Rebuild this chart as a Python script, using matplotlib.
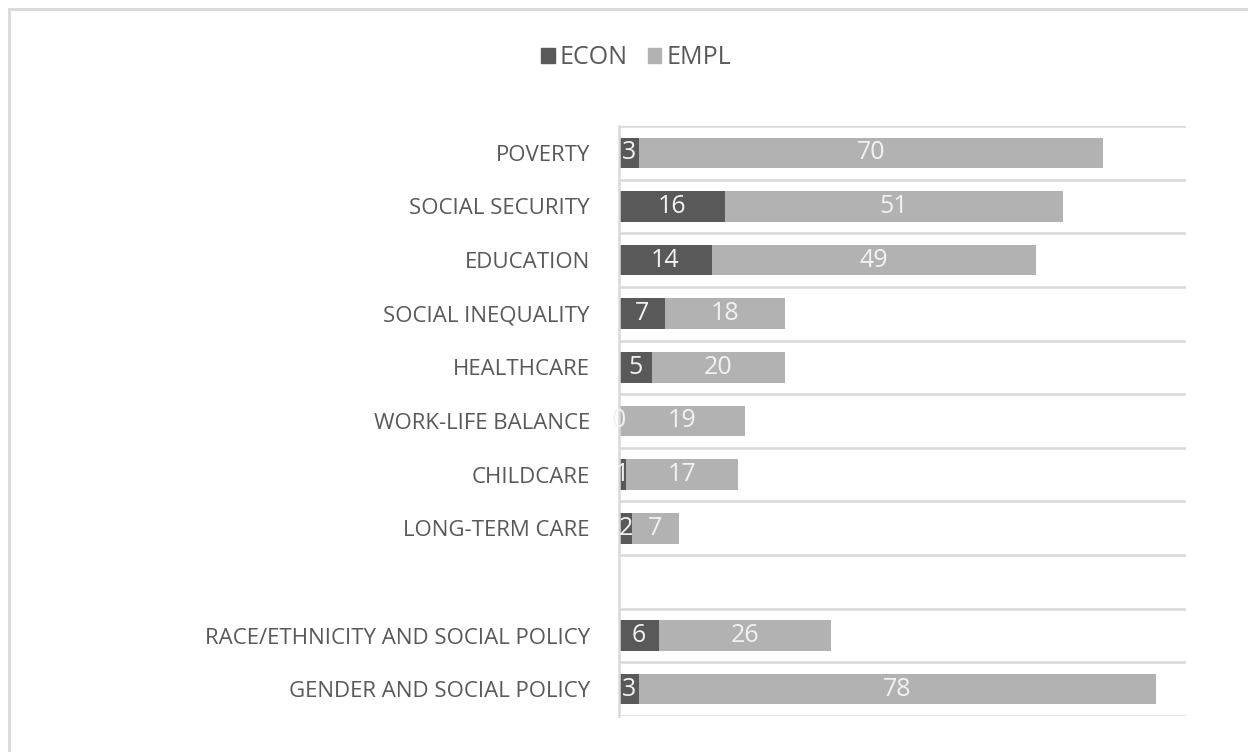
import matplotlib
matplotlib.use('Agg')
import matplotlib.pyplot as plt
from matplotlib.patches import Rectangle

plt.rcParams['font.family'] = ['Open Sans', 'DejaVu Sans']

categories = ['POVERTY', 'SOCIAL SECURITY', 'EDUCATION', 'SOCIAL INEQUALITY',
              'HEALTHCARE', 'WORK-LIFE BALANCE', 'CHILDCARE', 'LONG-TERM CARE',
              '', 'RACE/ETHNICITY AND SOCIAL POLICY', 'GENDER AND SOCIAL POLICY']
econ = [3, 16, 14, 7, 5, 0, 1, 2, None, 6, 3]
empl = [70, 51, 49, 18, 20, 19, 17, 7, None, 26, 78]

econ_color = '#595959'
empl_color = '#b2b2b2'
grid_color = '#d9d9d9'
text_color = '#595959'

fig = plt.figure(figsize=(12.48, 7.52), dpi=100)
# outer chart border (cut off on the right and bottom)
fig.patches.append(Rectangle((9 / 1248, -0.1), 1.2, 1.1 - 9 / 752,
                             transform=fig.transFigure, fill=False,
                             edgecolor=grid_color, linewidth=2))

ax = fig.add_axes([619 / 1248, 1 - 716 / 752, (1186 - 619) / 1248, (716 - 126) / 752])

ypos = list(range(len(categories)))
for i in ypos:
    if econ[i] is None:
        continue
    ax.barh(i, econ[i], height=0.57, color=econ_color, zorder=2)
    ax.barh(i, empl[i], left=econ[i], height=0.57, color=empl_color, zorder=2)
    ax.text(econ[i] / 2, i, str(econ[i]), ha='center', va='center',
            color='#f2f2f2', fontsize=18, zorder=3)
    ax.text(econ[i] + empl[i] / 2, i, str(empl[i]), ha='center', va='center',
            color='#f2f2f2', fontsize=18, zorder=3)

for b in range(len(categories) + 1):
    ax.axhline(b - 0.5, color=grid_color, linewidth=1.8, zorder=1)

ax.set_xlim(0, 85.6)
ax.set_ylim(len(categories) - 0.5, -0.5)
ax.set_yticks(ypos)
ax.set_yticklabels(categories, fontsize=16, color=text_color)
ax.tick_params(axis='y', length=0, pad=21)
ax.set_xticks([])
for side in ['top', 'right', 'bottom']:
    ax.spines[side].set_visible(False)
ax.spines['left'].set_color(grid_color)
ax.spines['left'].set_linewidth(1.8)

# legend
h1 = Rectangle((0, 0), 1, 1, color=econ_color)
h2 = Rectangle((0, 0), 1, 1, color=empl_color)
fig.legend([h1, h2], ['ECON', 'EMPL'], loc='center', bbox_to_anchor=(636 / 1248, 1 - 58 / 752),
           ncol=2, frameon=False, fontsize=18, handlelength=0.55, handleheight=0.55,
           handletextpad=0.2, columnspacing=0.8, labelcolor=text_color)

fig.savefig('out.png', dpi=100)
